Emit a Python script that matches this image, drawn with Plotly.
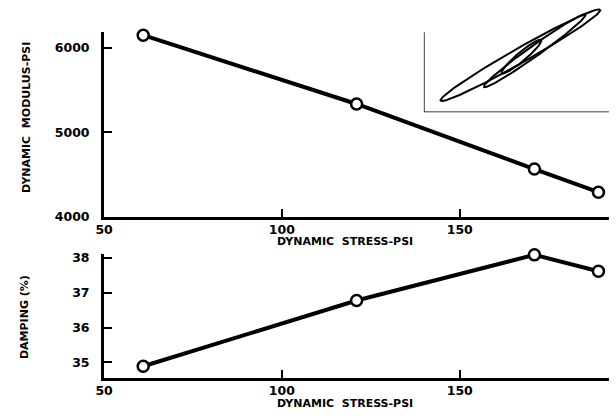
import numpy as np
import plotly.graph_objects as go

# Dynamic stress (psi) for the four test levels
stress = [61, 121, 171, 189]
# Dynamic modulus (psi) at each stress level
modulus = [6150, 5335, 4565, 4290]
# Damping (%) at each stress level
damping = [34.89, 36.78, 38.09, 37.62]

modulus_ticks = [4000, 5000, 6000]
damping_ticks = [35, 36, 37, 38]
stress_ticks = [50, 100, 150]

# Hysteresis loop sketch (inset, units of its own little frame):
# lower tip, upper tip and half-width of each loop
loop_lower = [(17, 12), (61, 26), (79, 40)]
loop_upper = [(179, 105), (164, 100), (119, 74)]
loop_halfwidth = [7.5, 5.5, 4.5]

W, H = 616, 416


def px(x):
    return x / W


def py(y):
    return 1 - y / H


FONT = "DejaVu Sans"
tick_font = dict(family=FONT, size=12.5, color="black", weight="bold")

fig = go.Figure()

marker = dict(size=11, color="white", line=dict(color="black", width=2.5))
fig.add_trace(go.Scatter(x=stress, y=modulus, mode="lines+markers",
                         line=dict(color="black", width=4), marker=marker,
                         xaxis="x", yaxis="y", cliponaxis=False))
fig.add_trace(go.Scatter(x=stress, y=damping, mode="lines+markers",
                         line=dict(color="black", width=4), marker=marker,
                         xaxis="x2", yaxis="y2", cliponaxis=False))

# inset loops
t = np.linspace(0, 2 * np.pi, 200)
for a, b, w in zip(loop_lower, loop_upper, loop_halfwidth):
    a = np.array(a, float)
    b = np.array(b, float)
    c = (a + b) / 2
    d = b - a
    L = np.hypot(*d)
    u = d / L
    v = np.array([-u[1], u[0]])
    pts = c[:, None] + np.outer(u, np.cos(t) * L / 2) + np.outer(v, np.sin(t) * w)
    fig.add_trace(go.Scatter(x=pts[0], y=pts[1], mode="lines",
                             line=dict(color="black", width=2),
                             xaxis="x3", yaxis="y3", cliponaxis=False))

x_dom = [px(96.5), px(609)]
x_range = [50, 192]

common_x = dict(range=x_range, domain=x_dom, showline=True, linecolor="black",
                linewidth=3, ticks="inside", ticklen=8, tickwidth=2,
                tickcolor="black", tickvals=stress_ticks, tickfont=tick_font,
                showgrid=False, zeroline=False, ticklabelstandoff=-1)
common_y = dict(showline=True, linecolor="black", linewidth=3, ticks="inside",
                ticklen=8, tickwidth=2, tickcolor="black", tickfont=tick_font,
                showgrid=False, zeroline=False, ticklabelstandoff=9)

fig.update_layout(
    width=W, height=H,
    margin=dict(l=0, r=0, t=0, b=0),
    paper_bgcolor="white", plot_bgcolor="white",
    showlegend=False,
    xaxis=dict(anchor="y", **common_x),
    yaxis=dict(anchor="x", range=[4000, 6184], domain=[py(219), py(30)],
               tickvals=modulus_ticks, **common_y),
    xaxis2=dict(anchor="y2", **common_x),
    yaxis2=dict(anchor="x2", range=[34.56, 38.12], domain=[py(384), py(257)],
                tickvals=damping_ticks, **common_y),
    xaxis3=dict(anchor="y3", domain=[px(421), px(612)], range=[0, 191],
                visible=False, fixedrange=True),
    yaxis3=dict(anchor="x3", domain=[py(112), py(3)], range=[0, 109],
                visible=False, fixedrange=True),
)

# inset frame (L-shaped axes)
fig.add_shape(type="line", xref="x3", yref="y3", x0=0, y0=0, x1=0, y1=82,
              line=dict(color="black", width=1.5))
fig.add_shape(type="line", xref="x3", yref="y3", x0=0, y0=0, x1=188, y1=0,
              line=dict(color="black", width=1.5))

title_font = dict(family=FONT, size=11, color="black", weight="bold")
for yc in (244, 410):
    fig.add_annotation(text="DYNAMIC&nbsp;&nbsp;STRESS-PSI", x=px(341), y=py(yc),
                       xref="paper", yref="paper", showarrow=False,
                       font=title_font, xanchor="center", yanchor="middle")
fig.add_annotation(text="DYNAMIC&nbsp;&nbsp;MODULUS-PSI", x=px(17), y=py(117),
                   xref="paper", yref="paper", showarrow=False, textangle=-90,
                   font=title_font, xanchor="center", yanchor="middle")
fig.add_annotation(text="DAMPING (%)", x=px(15), y=py(322),
                   xref="paper", yref="paper", showarrow=False, textangle=-90,
                   font=title_font, xanchor="center", yanchor="middle")

fig.write_html("out.html")
